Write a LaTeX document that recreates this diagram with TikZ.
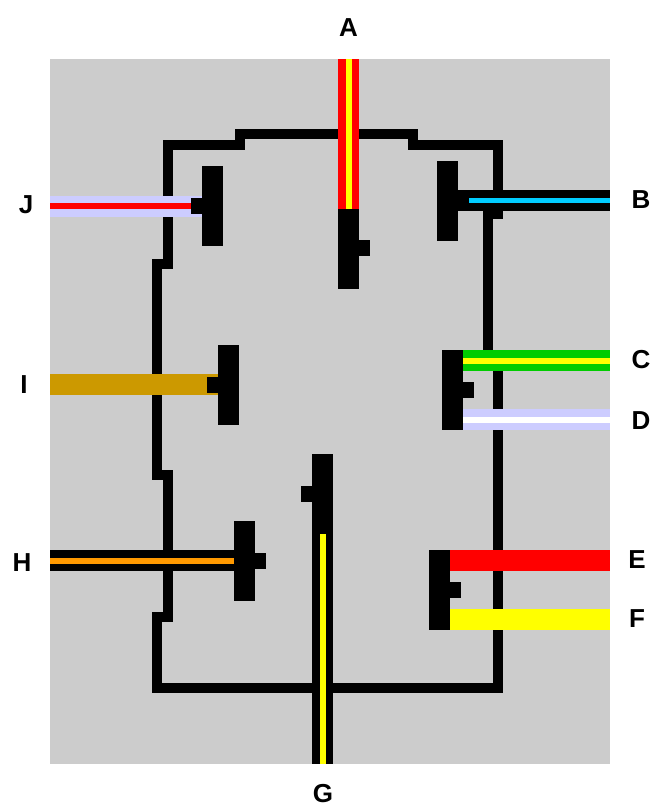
\documentclass[tikz,border=0pt]{standalone}
\usepackage{fontspec}
\setmainfont{Liberation Sans}
\definecolor{bggray}{HTML}{CCCCCC}
\definecolor{lav}{HTML}{CCCCFF}
\definecolor{cred}{HTML}{FF0000}
\definecolor{cyellow}{HTML}{FFFF00}
\definecolor{cgreen}{HTML}{00CC00}
\definecolor{cblue}{HTML}{00CCFF}
\definecolor{corange}{HTML}{FF9900}
\definecolor{cbrown}{HTML}{CC9900}
\tikzset{
  frameline/.style={line width=10.5pt,line join=miter,line cap=butt,black},
  cablewide/.style={line width=21pt},
  cablecore/.style={line width=6pt},
  vbar/.style={fill=black,draw=none,inner sep=0pt,minimum width=21pt,minimum height=80pt},
  nubv/.style={fill=black,draw=none,inner sep=0pt,minimum width=11pt,minimum height=16pt},
  lab/.style={font=\bfseries\fontsize{26}{28}\selectfont,inner sep=0pt,text=black}
}
\begin{document}
\begin{tikzpicture}[x=1pt,y=-1pt]
\useasboundingbox (0,0) rectangle (653,808);
\fill[bggray] (50,59) rectangle (610,764);
% outline
\draw[frameline] (168,264) -- (168,145) -- (240,145) -- (240,134) -- (413,134) -- (413,145) -- (498,145) -- (498,214) -- (488,214) -- (488,360) -- (498,360) -- (498,688) -- (157,688) -- (157,617) -- (168,617) -- (168,475) -- (157,475) -- (157,264) -- (168,264) -- cycle;
% terminals
\node[vbar] (barA) at (348.5,248.5) {};
\node[vbar] (barB) at (447.5,200.5) {};
\node[vbar] (barCD) at (452.5,390) {};
\node[vbar] (barEF) at (439.5,590) {};
\node[vbar] (barG) at (322.5,493.5) {};
\node[vbar] (barH) at (244.5,561) {};
\node[vbar] (barI) at (228.5,384.5) {};
\node[vbar] (barJ) at (212.5,206) {};
% free ends
\coordinate (endA) at (348.5,59);
\coordinate (endB) at (610,200.5);
\coordinate (endC) at (610,360.5);
\coordinate (endD) at (610,419.5);
\coordinate (endE) at (610,560.5);
\coordinate (endF) at (610,619.5);
\coordinate (endG) at (322.5,764);
\coordinate (endH) at (50,560.5);
\coordinate (endI) at (50,384.5);
\coordinate (endJ) at (50,206);
% cables
\draw[cablewide,cred] (barA.south) -- (endA);
\draw[cablecore,cyellow] (barA.south) -- (endA);
\draw[cablewide,black] (barB.east |- endB) -- (endB);
\draw[cablecore,cblue,line width=5.5pt] (barB.east |- endB) -- (endB);
\draw[cablewide,cgreen] (barCD.east |- endC) -- (endC);
\draw[cablecore,cyellow] (barCD.east |- endC) -- (endC);
\draw[cablewide,lav] (barCD.east |- endD) -- (endD);
\draw[cablecore,white] (barCD.east |- endD) -- (endD);
\draw[cablewide,cred] (barEF.east |- endE) -- (endE);
\draw[cablewide,cyellow] (barEF.east |- endF) -- (endF);
\draw[cablewide,black] (barG.south) -- (endG);
\draw[cablecore,cyellow] (barG.south) -- (endG);
\draw[cablewide,black] (barH.west |- endH) -- (endH);
\draw[cablecore,corange] (barH.west |- endH) -- (endH);
\draw[cablewide,cbrown] (barI.west |- endI) -- (endI);
\draw[cablewide,lav] (barJ.west) -- (endJ);
\draw[cablecore,cred] (barJ.west) -- (endJ);
% redraw terminals and nubs on top
\node[vbar] at (barA) {};
\node[vbar] at (barB) {};
\node[vbar] at (barCD) {};
\node[vbar] at (barEF) {};
\node[vbar] at (barG) {};
\node[vbar] at (barH) {};
\node[vbar] at (barI) {};
\node[vbar] at (barJ) {};
\node[nubv] (nubA) at (364.5,248) {};
\node[nubv] (nubB) at (463.5,200.5) {};
\node[nubv] (nubCD) at (468.5,390) {};
\node[nubv] (nubEF) at (455.5,590) {};
\node[nubv] (nubG) at (306.5,494) {};
\node[nubv] (nubH) at (260.5,561) {};
\node[nubv] (nubI) at (212.5,384.5) {};
\node[nubv] (nubJ) at (196.5,206) {};
% labels
\node[lab] (labA) at (348.5,28) {A};
\node[lab] (labB) at (641,200) {B};
\node[lab] (labC) at (641,360) {C};
\node[lab] (labD) at (641,421) {D};
\node[lab] (labE) at (637,560) {E};
\node[lab] (labF) at (637,619) {F};
\node[lab] (labG) at (323,794) {G};
\node[lab] (labH) at (22,563) {H};
\node[lab] (labI) at (24,385) {I};
\node[lab] (labJ) at (26,205) {J};
\end{tikzpicture}
\end{document}
